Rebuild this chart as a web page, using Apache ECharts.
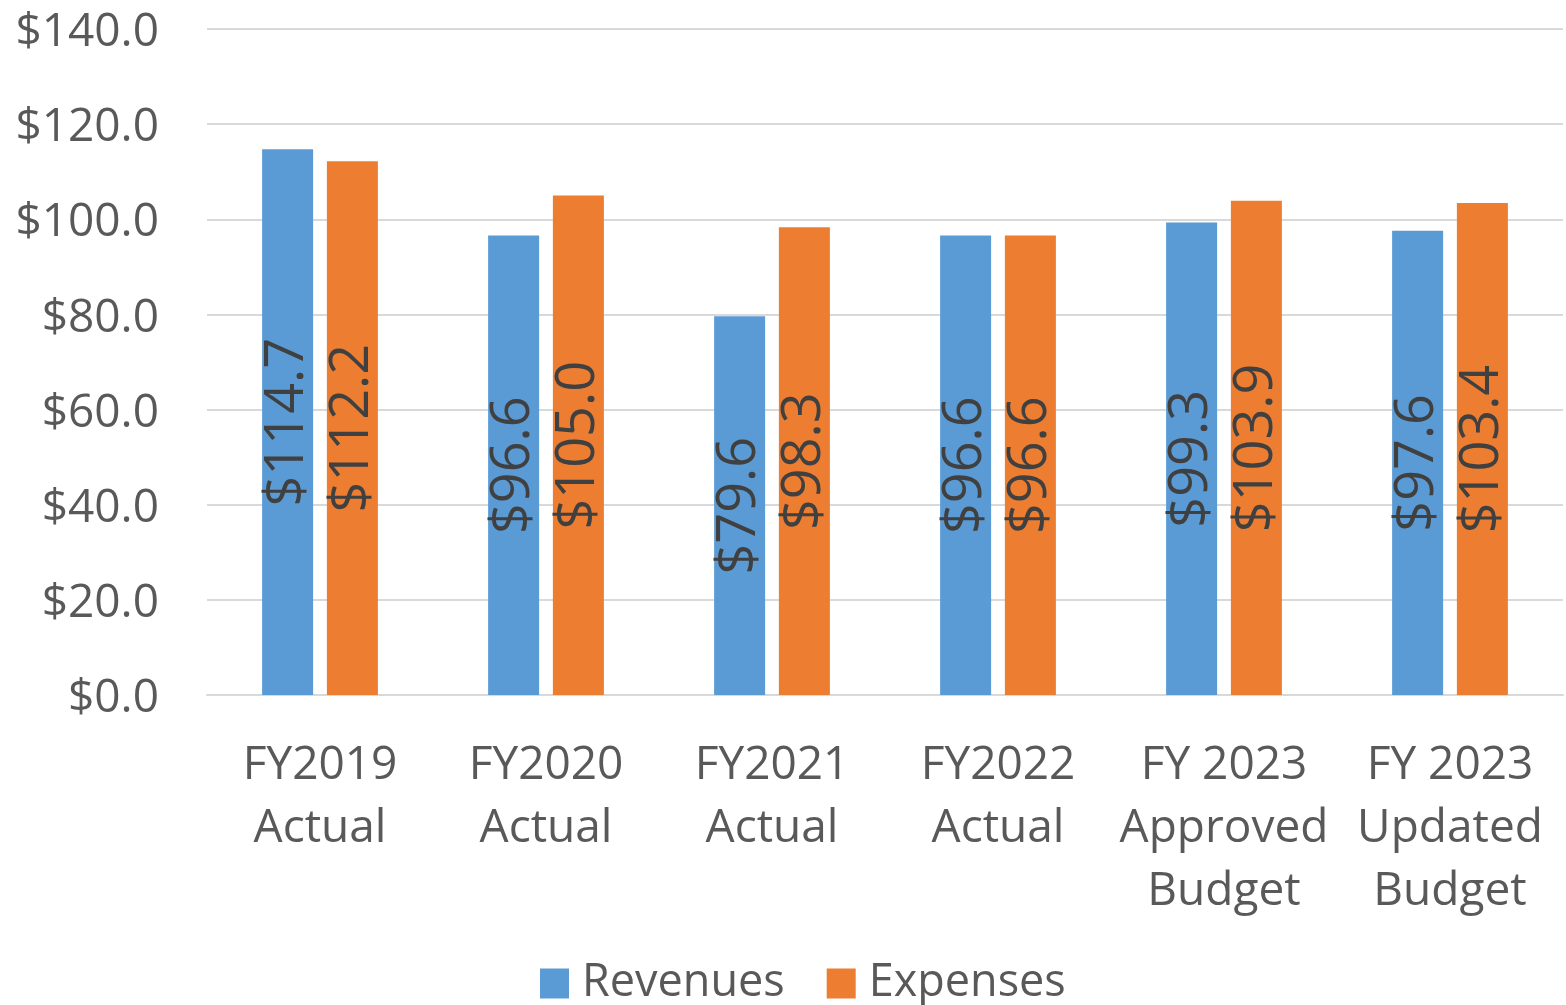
<!DOCTYPE html>
<html>
<head>
<meta charset="utf-8">
<script src="https://cdn.jsdelivr.net/npm/echarts@6/dist/echarts.min.js"></script>
<style>
    html, body { margin: 0; padding: 0; background: #fff; }
    #chart { width: 1566px; height: 1005px; }
</style>
</head>
<body>
<div id="chart"></div>
<script>
var categories = ['FY2019\nActual', 'FY2020\nActual', 'FY2021\nActual', 'FY2022\nActual', 'FY 2023\nApproved\nBudget', 'FY 2023\nUpdated\nBudget'];
var revenues = [114.7, 96.6, 79.6, 96.6, 99.3, 97.6];
var expenses = [112.2, 105.0, 98.3, 96.6, 103.9, 103.4];
var yTicks = [0, 20, 40, 60, 80, 100, 120, 140];

var fontName = '"Open Sans", sans-serif';

function money(v) {
    return '$' + Number(v).toFixed(1);
}

var barLabel = {
    show: true,
    position: 'inside',
    rotate: 90,
    align: 'center',
    verticalAlign: 'middle',
    formatter: function (p) { return money(p.value); },
    color: '#404040',
    fontFamily: fontName,
    fontSize: 54
};

var myChart = echarts.init(document.getElementById('chart'), null, { renderer: 'canvas' });
myChart.setOption({
    animation: false,
    grid: {
        left: 207,
        right: 3,
        top: 29,
        bottom: 310
    },
    legend: {
        data: ['Revenues', 'Expenses'],
        left: 535,
        top: 956,
        icon: 'rect',
        itemWidth: 29,
        itemHeight: 30,
        itemGap: 42,
        textStyle: {
            color: '#595959',
            fontFamily: fontName,
            fontSize: 45,
            padding: [0, 0, 0, 8]
        }
    },
    xAxis: {
        type: 'category',
        data: categories,
        axisLine: { lineStyle: { color: '#d9d9d9', width: 2 } },
        axisTick: { show: false },
        axisLabel: {
            interval: 0,
            margin: 39,
            color: '#595959',
            fontFamily: fontName,
            fontSize: 46,
            lineHeight: 63
        }
    },
    yAxis: {
        type: 'value',
        min: yTicks[0],
        max: yTicks[yTicks.length - 1],
        interval: 20,
        axisLine: { show: false },
        axisTick: { show: false },
        splitLine: { lineStyle: { color: '#d9d9d9', width: 2 } },
        axisLabel: {
            margin: 48,
            formatter: function (v) { return '{t|' + money(v) + '}'; },
            rich: {
                t: {
                    color: '#595959',
                    fontFamily: fontName,
                    fontSize: 46,
                    padding: [8, 0, 0, 0]
                }
            }
        }
    },
    series: [
        {
            name: 'Revenues',
            type: 'bar',
            data: revenues,
            barWidth: 51,
            barGap: '27%',
            itemStyle: { color: '#5b9bd5' },
            label: barLabel
        },
        {
            name: 'Expenses',
            type: 'bar',
            data: expenses,
            barWidth: 51,
            barGap: '27%',
            itemStyle: { color: '#ed7d31' },
            label: barLabel
        }
    ]
});
</script>
</body>
</html>
